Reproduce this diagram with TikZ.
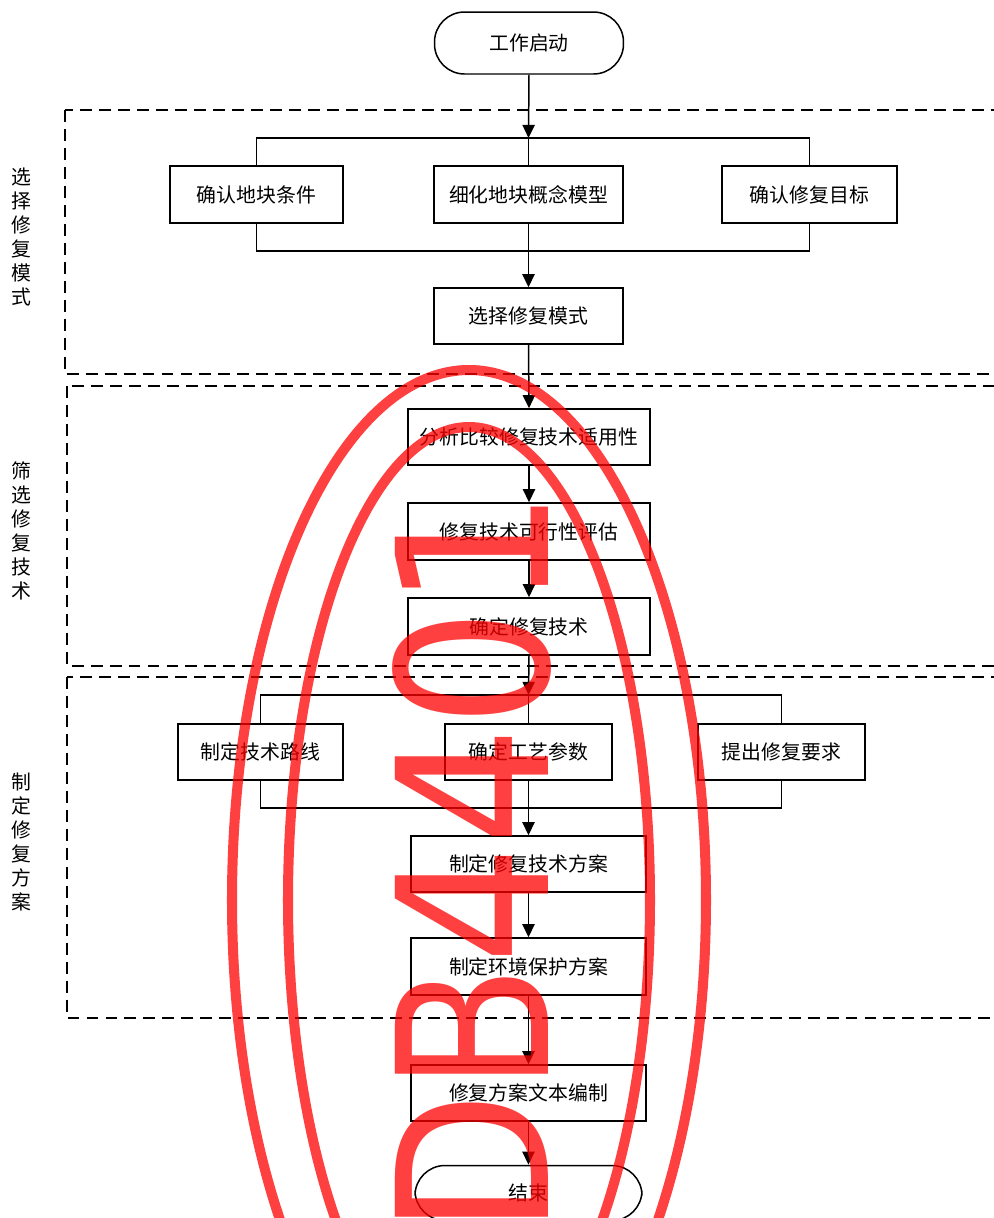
\documentclass[tikz,border=0pt]{standalone}
\usepackage{fontspec}
\usepackage{tikz}
\usetikzlibrary{arrows.meta,positioning,calc}
\newfontfamily\cjk{Noto Sans CJK SC}
\newfontfamily\stampfont{DejaVu Sans}
\definecolor{stampred}{HTML}{FF0000}

\begin{document}
\begin{tikzpicture}[
    x=0.02cm, y=-0.02cm,
    font=\cjk\fontsize{11.3pt}{13.6pt}\selectfont,
    proc/.style={rectangle, draw, line width=0.85pt, align=center, inner sep=2pt},
    term/.style={rectangle, rounded corners=0.6cm, draw, line width=0.85pt, align=center, inner sep=2pt},
    side/.style={align=center, inner sep=0pt},
    dashbox/.style={dash pattern=on 6.8pt off 4pt, line width=0.85pt},
    link/.style={line width=0.85pt},
    arrow/.style={-{Triangle[length=7.5pt,width=7pt]}, line width=0.85pt},
    stamp/.style={draw=none, text=stampred, text opacity=0.75, inner sep=0pt, font=\stampfont\fontsize{119.6pt}{120pt}\selectfont},
    ring/.style={draw=stampred, draw opacity=0.75, line width=5.7pt}
  ]
    \useasboundingbox (0,0) rectangle (994,1218);

    % stage frames
    \draw[dashbox] (65,110) rectangle (1010,374);
    \draw[dashbox] (67,386) rectangle (1010,666);
    \draw[dashbox] (67,677) rectangle (1010,1018);
    \node[side] (s1) at (21,237) {选\\择\\修\\复\\模\\式};
    \node[side] (s2) at (21,531) {筛\\选\\修\\复\\技\\术};
    \node[side] (s3) at (21,842) {制\\定\\修\\复\\方\\案};

    \node[term, minimum width=3.78cm, minimum height=1.24cm] (start) at (529,43) {工作启动};

    \node[proc, minimum width=3.46cm, minimum height=1.14cm] (c1) at (256.5,194.5) {确认地块条件};
    \node[proc, minimum width=3.78cm, minimum height=1.14cm] (c2) at (528.5,194.5) {细化地块概念模型};
    \node[proc, minimum width=3.5cm, minimum height=1.14cm] (c3) at (809.5,194.5) {确认修复目标};
    \node[proc, minimum width=3.78cm, minimum height=1.12cm] (mode) at (528.5,316) {选择修复模式};

    \node[proc, minimum width=4.84cm, minimum height=1.12cm] (fit) at (529,437) {分析比较修复技术适用性};
    \node[proc, minimum width=4.84cm, minimum height=1.14cm] (feas) at (529,531.5) {修复技术可行性评估};
    \node[proc, minimum width=4.84cm, minimum height=1.14cm] (tech) at (529,626.5) {确定修复技术};

    \node[proc, minimum width=3.3cm, minimum height=1.12cm] (d1) at (260.5,752) {制定技术路线};
    \node[proc, minimum width=3.34cm, minimum height=1.12cm] (d2) at (528.5,752) {确定工艺参数};
    \node[proc, minimum width=3.34cm, minimum height=1.12cm] (d3) at (781.5,752) {提出修复要求};
    \node[proc, minimum width=4.7cm, minimum height=1.12cm] (plan) at (528.5,864) {制定修复技术方案};
    \node[proc, minimum width=4.7cm, minimum height=1.14cm] (env) at (528.5,966.5) {制定环境保护方案};
    \node[proc, minimum width=4.7cm, minimum height=1.12cm] (doc) at (528.5,1093) {修复方案文本编制};
    \node[term, minimum width=4.54cm, minimum height=1.1cm] (stop) at (528.5,1193) {结束};

    \coordinate (t1) at (528.5,138);
    \coordinate (b1) at (528.5,251);
    \coordinate (t2) at (528.5,695);
    \coordinate (b2) at (528.5,808);

    % first stage
    \draw[arrow] (start.south) -- (t1);
    \draw[link] (c1.north) |- (t1) -| (c3.north);
    \draw[link] (t1) -- (c2.north);
    \draw[link] (c1.south) |- (b1) -| (c3.south);
    \draw[link] (c2.south) -- (b1);
    \draw[arrow] (b1) -- (mode.north);

    % second stage
    \draw[arrow] (mode.south) -- (fit.north);
    \draw[arrow] (fit.south) -- (feas.north);
    \draw[arrow] (feas.south) -- (tech.north);

    % third stage
    \draw[arrow] (tech.south) -- (t2);
    \draw[link] (d1.north) |- (t2) -| (d3.north);
    \draw[link] (t2) -- (d2.north);
    \draw[link] (d1.south) |- (b2) -| (d3.south);
    \draw[link] (d2.south) -- (b2);
    \draw[arrow] (b2) -- (plan.north);
    \draw[arrow] (plan.south) -- (env.north);
    \draw[arrow] (env.south) -- (doc.north);
    \draw[arrow] (doc.south) -- (stop.north);

    % stamp
    \draw[ring] (469,900) ellipse [x radius=237, y radius=530];
    \draw[ring] (469,900) ellipse [x radius=181, y radius=473];
    \node[stamp, rotate=90, anchor=base west] (mark) at (548,1236) {\scalebox{0.887}[1]{DB4401}};
  \end{tikzpicture}
\end{document}
